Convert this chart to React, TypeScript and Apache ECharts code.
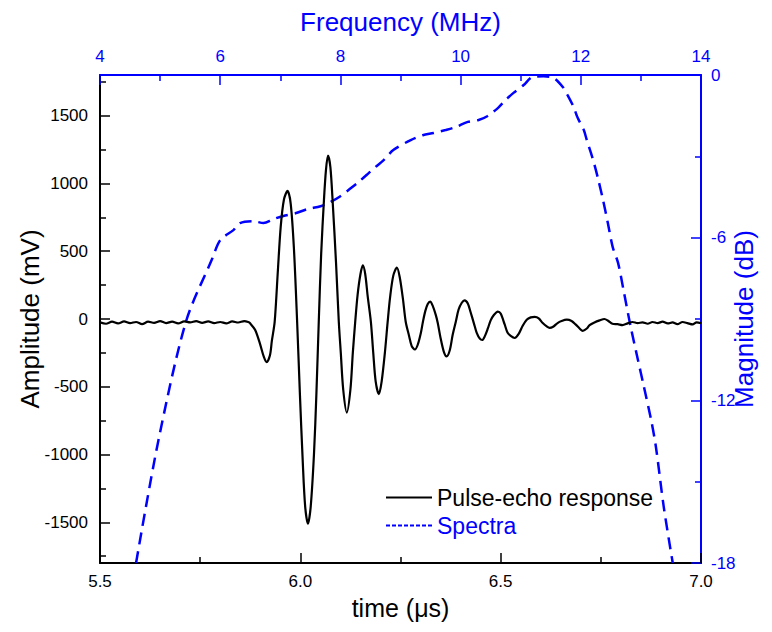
import React, { useEffect, useRef } from "react";
import * as echarts from "echarts";

// Pulse-echo response (time in μs, amplitude in mV)
const timeUs = [
  5.5, 5.515, 5.53, 5.545, 5.56, 5.575, 5.59, 5.605, 5.62, 5.635, 5.65, 5.665, 5.68, 5.695, 5.71, 5.725, 5.74,
  5.755, 5.77, 5.785, 5.8, 5.815, 5.83, 5.845, 5.86, 5.87,
  5.874, 5.887, 5.899, 5.909, 5.916, 5.924, 5.929, 5.936, 5.944, 5.951, 5.959, 5.968, 5.976, 5.984, 5.992,
  5.999, 6.006, 6.012, 6.019, 6.026, 6.034, 6.04, 6.046, 6.052, 6.059, 6.064, 6.069, 6.075, 6.081, 6.089,
  6.096, 6.101, 6.107, 6.116, 6.125, 6.131, 6.137, 6.143, 6.15, 6.156, 6.162, 6.168, 6.176, 6.182, 6.188,
  6.196, 6.203, 6.211, 6.218, 6.224, 6.232, 6.241, 6.248, 6.256, 6.263, 6.271, 6.278, 6.286, 6.293, 6.301,
  6.306, 6.312, 6.318, 6.324, 6.33, 6.338, 6.343, 6.35, 6.358, 6.365, 6.373, 6.38, 6.388, 6.395, 6.403,
  6.41, 6.418, 6.425, 6.433, 6.44, 6.448, 6.454, 6.46, 6.468, 6.475, 6.483, 6.493, 6.5, 6.51, 6.517, 6.525,
  6.535, 6.545, 6.555, 6.565, 6.575, 6.585, 6.595, 6.605, 6.615, 6.622, 6.632, 6.642, 6.652, 6.665, 6.677,
  6.687, 6.697, 6.705, 6.715, 6.722, 6.734, 6.747, 6.759, 6.769, 6.779, 6.792, 6.804, 6.817, 6.829, 6.842,
  6.854, 6.867, 6.879, 6.892, 6.904, 6.917, 6.929, 6.941, 6.954, 6.966, 6.979, 6.989, 7.0,
];
const amplitudeMv = [
  -25, -35, -20, -32, -18, -30, -22, -38, -20, -28, -15, -30, -20, -33, -18, -25, -15,
  -28, -18, -30, -22, -32, -18, -26, -15, -22,
  -30, -80, -180, -280, -318, -270, -160, -20, 360, 680, 880, 945, 850, 520, -20,
  -560, -1050, -1380, -1510, -1380, -1000, -560, -20, 480, 880, 1100, 1205, 1120, 850, 420,
  -20, -250, -520, -690, -520, -250, -20, 180, 330, 395, 330, 170, -20, -250, -460,
  -555, -460, -250, -20, 160, 320, 380, 310, 150, -20, -120, -200, -225, -190, -100,
  -20, 60, 110, 128, 100, 30, -30, -140, -240, -275, -230, -120, -20, 70, 120,
  138, 115, 50, -30, -100, -145, -155, -130, -70, -10, 30, 55, 40, -40, -100, -125,
  -140, -110, -50, -5, 12, 15, 5, -30, -55, -66, -55, -30, -15, -5, -15,
  -40, -70, -88, -70, -45, -25, -10, 0, -15, -35, -38, -45, -32, -22, -30,
  -25, -35, -22, -30, -20, -33, -25, -38, -22, -30, -40, -25, -30,
];

// Spectra (frequency in MHz, magnitude in dB)
const freqMHz = [
  4.6, 4.97, 5.43, 5.87, 6.0, 6.22, 6.33, 6.55, 6.72, 6.88, 7.05, 7.25, 7.45, 7.67, 7.83, 8.0, 8.13, 8.3,
  8.47, 8.58, 8.72, 8.88, 9.17, 9.37, 9.55, 9.75, 9.92, 10.12, 10.3, 10.45, 10.62, 10.75, 10.88, 11.05,
  11.2, 11.38, 11.55, 11.7, 11.78, 11.88, 11.95, 12.05, 12.1, 12.17, 12.22, 12.28, 12.37, 12.45, 12.53,
  12.62, 12.72, 12.83, 12.95, 13.05, 13.17, 13.25, 13.38, 13.53,
];
const magnitudeDb = [
  -18.0, -13.5, -9.1, -6.76, -6.09, -5.72, -5.46, -5.39, -5.46, -5.32, -5.2, -5.1, -4.95, -4.84, -4.69,
  -4.47, -4.25, -3.95, -3.62, -3.4, -3.14, -2.77, -2.4, -2.22, -2.14, -2.03, -1.92, -1.73, -1.66, -1.51,
  -1.22, -0.92, -0.66, -0.37, -0.07, -0.05, -0.11, -0.44, -0.74, -1.18, -1.59, -2.03, -2.4, -2.88, -3.25,
  -3.76, -4.61, -5.46, -6.34, -6.93, -8.04, -9.29, -10.5, -11.5, -12.72, -13.72, -15.93, -18.0,
];

// Tick values
const amplitudeTicks = [-1500, -1000, -500, 0, 500, 1000, 1500];
const amplitudeMinorTicks = [-1750, -1250, -750, -250, 250, 750, 1250, 1750];

const BLUE = "#0000ff";
const FONT = "'Liberation Sans', Arial, sans-serif";

export default function App() {
  const ref = useRef<HTMLDivElement>(null);

  useEffect(() => {
    document.body.style.margin = "0";
    if (!ref.current) return;
    const chart = echarts.init(ref.current, null, { renderer: "svg" });

    const pulseData = timeUs.map((t, i) => [t, amplitudeMv[i]]);
    const spectraData = freqMHz.map((f, i) => [f, magnitudeDb[i]]);

    chart.setOption({
      animation: false,
      backgroundColor: "#ffffff",
      textStyle: { fontFamily: FONT },
      grid: { left: 100, right: 71, top: 75, bottom: 69, containLabel: false },
      legend: {
        orient: "vertical",
        left: 380,
        top: 481,
        itemWidth: 46,
        itemHeight: 12,
        itemGap: 5,
        itemStyle: { opacity: 0 },
        textStyle: { fontSize: 23, fontFamily: FONT },
        data: [
          { name: "Pulse-echo response", textStyle: { color: "#000000" }, lineStyle: { width: 2 } },
          { name: "Spectra", textStyle: { color: BLUE }, lineStyle: { width: 2, type: [4, 2] } },
        ],
      },
      xAxis: [
        {
          type: "value",
          position: "bottom",
          min: 5.5,
          max: 7.0,
          interval: 0.5,
          name: "time (μs)",
          nameLocation: "middle",
          nameGap: 32,
          nameMoveOverlap: false,
          nameTextStyle: { fontSize: 25, color: "#000", fontFamily: FONT },
          axisLine: { show: true, onZero: false, lineStyle: { color: "#000", width: 2 } },
          axisTick: { show: true, inside: true, length: 10, lineStyle: { color: "#000", width: 1.5 } },
          minorTick: { show: true, splitNumber: 2, length: 6, lineStyle: { color: "#000", width: 1.5 } },
          axisLabel: {
            color: "#000",
            fontSize: 17,
            margin: 10,
            formatter: (v: number) => v.toFixed(1),
          },
          splitLine: { show: false },
        },
        {
          type: "value",
          position: "top",
          min: 4,
          max: 14,
          interval: 2,
          name: "Frequency (MHz)",
          nameLocation: "middle",
          nameGap: 40,
          nameMoveOverlap: false,
          nameTextStyle: { fontSize: 26, color: BLUE, fontFamily: FONT },
          axisLine: { show: true, onZero: false, lineStyle: { color: BLUE, width: 2 } },
          axisTick: { show: true, inside: true, length: 10, lineStyle: { color: BLUE, width: 1.5 } },
          minorTick: { show: true, splitNumber: 2, length: 6, lineStyle: { color: BLUE, width: 1.5 } },
          axisLabel: { color: BLUE, fontSize: 17, margin: 10, formatter: (v: number) => String(v) },
          splitLine: { show: false },
        },
      ],
      yAxis: [
        {
          type: "value",
          position: "left",
          min: -1800,
          max: 1800,
          name: "Amplitude (mV)",
          nameLocation: "middle",
          nameGap: 57,
          nameMoveOverlap: false,
          nameRotate: 90,
          nameTextStyle: { fontSize: 26, color: "#000", fontFamily: FONT },
          axisLine: { show: true, onZero: false, lineStyle: { color: "#000", width: 2 } },
          axisTick: {
            show: true,
            inside: true,
            length: 10,
            customValues: amplitudeTicks,
            lineStyle: { color: "#000", width: 1.5 },
          },
          axisLabel: {
            color: "#000",
            fontSize: 17,
            margin: 12,
            customValues: amplitudeTicks,
            formatter: (v: number) => String(v),
          },
          splitLine: { show: false },
        },
        {
          type: "value",
          position: "left",
          min: -1800,
          max: 1800,
          axisLine: { show: false },
          axisTick: {
            show: true,
            inside: true,
            length: 6,
            customValues: amplitudeMinorTicks,
            lineStyle: { color: "#000", width: 1.5 },
          },
          axisLabel: { show: false },
          splitLine: { show: false },
        },
        {
          type: "value",
          position: "right",
          min: -18,
          max: 0,
          interval: 6,
          name: "Magnitude (dB)",
          nameLocation: "middle",
          nameGap: 30,
          nameMoveOverlap: false,
          nameRotate: 90,
          nameTextStyle: { fontSize: 26, color: BLUE, fontFamily: FONT },
          axisLine: { show: true, onZero: false, lineStyle: { color: BLUE, width: 2 } },
          axisTick: { show: true, inside: true, length: 10, lineStyle: { color: BLUE, width: 1.5 } },
          minorTick: { show: true, splitNumber: 2, length: 6, lineStyle: { color: BLUE, width: 1.5 } },
          axisLabel: { color: BLUE, fontSize: 17, margin: 10, formatter: (v: number) => String(v) },
          splitLine: { show: false },
        },
      ],
      series: [
        {
          name: "Pulse-echo response",
          type: "line",
          xAxisIndex: 0,
          yAxisIndex: 0,
          data: pulseData,
          smooth: 0.3,
          symbol: "none",
          color: "#000000",
          lineStyle: { color: "#000000", width: 2.2 },
          z: 3,
        },
        {
          name: "Spectra",
          type: "line",
          xAxisIndex: 1,
          yAxisIndex: 2,
          data: spectraData,
          smooth: 0.3,
          symbol: "none",
          color: BLUE,
          lineStyle: { color: BLUE, width: 2.5, type: [12, 7] },
          z: 2,
        },
      ],
    });

    return () => chart.dispose();
  }, []);

  return <div ref={ref} style={{ width: 772, height: 632 }} />;
}
